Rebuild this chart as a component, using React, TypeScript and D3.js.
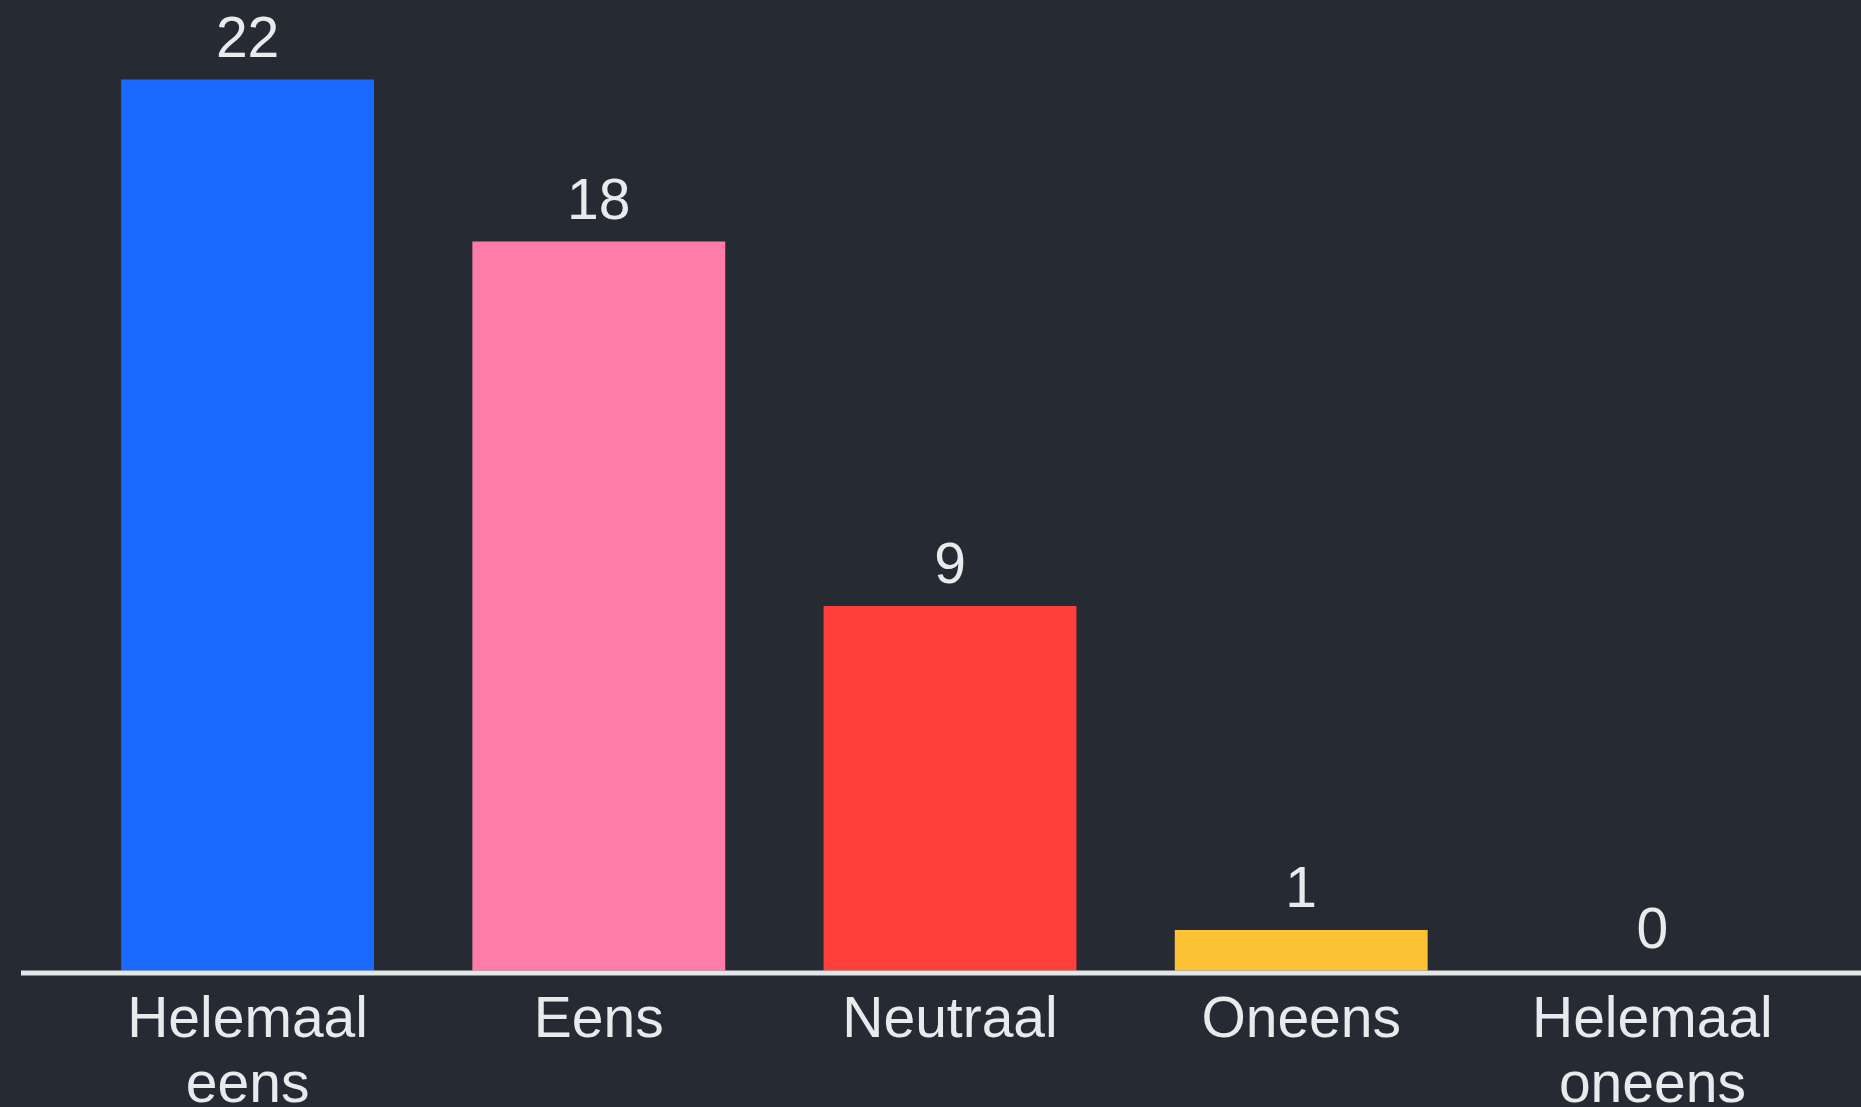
import React from "react";
import * as d3 from "d3";

const categories = ["Helemaal eens", "Eens", "Neutraal", "Oneens", "Helemaal oneens"];
const labelLines = [["Helemaal", "eens"], ["Eens"], ["Neutraal"], ["Oneens"], ["Helemaal", "oneens"]];
const values = [22, 18, 9, 1, 0];
const colors = ["#1a6aff", "#ff7ca8", "#ff3f3a", "#fdc234", "#8a8a8a"];

const W = 1861;
const H = 1107;

export default function App() {
  const x = d3
    .scaleBand<string>()
    .domain(categories)
    .range([72, 1828])
    .paddingInner(0.28)
    .paddingOuter(0.14);
  const y = d3.scaleLinear().domain([0, 22]).range([970.5, 79.5]);
  const font = "'Liberation Sans', Arial, sans-serif";
  const textColor = "#e9eaec";

  return (
    <svg
      width={W}
      height={H}
      style={{ position: "absolute", left: 0, top: 0, display: "block" }}
    >
      <rect x={0} y={0} width={W} height={H} fill="#262a33" />
      {categories.map((c, i) => {
        const bx = x(c) as number;
        const bw = x.bandwidth();
        const v = values[i];
        const cx = bx + bw / 2;
        return (
          <g key={c}>
            {v > 0 && (
              <rect x={bx} y={y(v)} width={bw} height={y(0) - y(v)} fill={colors[i]} />
            )}
            <text
              x={cx}
              y={y(v) - 23}
              textAnchor="middle"
              fontFamily={font}
              fontSize={57}
              fill={textColor}
            >
              {v}
            </text>
            {labelLines[i].map((ln, j) => (
              <text
                key={j}
                x={cx}
                y={1037 + j * 65}
                textAnchor="middle"
                fontFamily={font}
                fontSize={57}
                fill={textColor}
              >
                {ln}
              </text>
            ))}
          </g>
        );
      })}
      <line x1={21} x2={W} y1={973} y2={973} stroke="#e4e7ea" strokeWidth={5} />
    </svg>
  );
}
